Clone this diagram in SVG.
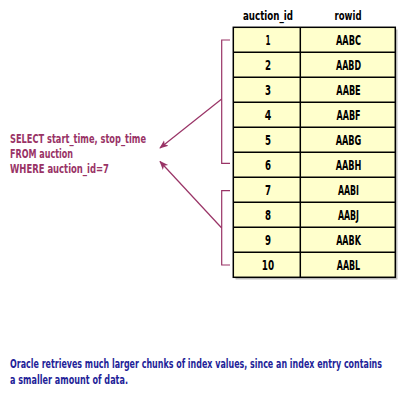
<svg xmlns="http://www.w3.org/2000/svg" width="420" height="420" viewBox="0 0 420 420">
<style>
.t{font-family:"DejaVu Sans Condensed","Liberation Sans Narrow","Liberation Sans",sans-serif;font-weight:bold;font-size:13px;font-stretch:condensed}
.c{text-anchor:middle;fill:#000}
.q{fill:#993366}
.n{fill:#1f1f99}
.cell{fill:#ffffcc;stroke:#000;stroke-width:1.5}
.br{fill:none;stroke:#993366;stroke-width:1.2}
</style>
<defs>
<marker id="ah" viewBox="0 0 10 10" refX="9" refY="5" markerWidth="9" markerHeight="9" orient="auto-start-reverse" markerUnits="userSpaceOnUse">
<path d="M0,1 L10,5 L0,9 L2.5,5 z" fill="#993366"/>
</marker>
</defs>
<rect width="420" height="420" fill="#fff"/>
<g id="headers">
<text class="t c" x="268" y="20" textLength="50" lengthAdjust="spacingAndGlyphs">auction_id</text>
<text class="t c" x="348" y="20" textLength="27" lengthAdjust="spacingAndGlyphs">rowid</text>
</g>
<g id="table">
<rect x="235.5" y="29.5" width="162" height="250" fill="#999" opacity="0.6"/>
<rect x="233.3" y="27.3" width="162" height="250" class="cell"/>
<g stroke="#000" stroke-width="1.5">
<line x1="300.3" y1="27.3" x2="300.3" y2="277.3"/>
<line x1="233.3" y1="52.3" x2="395.3" y2="52.3"/>
<line x1="233.3" y1="77.3" x2="395.3" y2="77.3"/>
<line x1="233.3" y1="102.3" x2="395.3" y2="102.3"/>
<line x1="233.3" y1="127.3" x2="395.3" y2="127.3"/>
<line x1="233.3" y1="152.3" x2="395.3" y2="152.3"/>
<line x1="233.3" y1="177.3" x2="395.3" y2="177.3"/>
<line x1="233.3" y1="202.3" x2="395.3" y2="202.3"/>
<line x1="233.3" y1="227.3" x2="395.3" y2="227.3"/>
<line x1="233.3" y1="252.3" x2="395.3" y2="252.3"/>
</g>
<g class="t c" style="font-size:14px">
<text x="268" y="45" textLength="5" lengthAdjust="spacingAndGlyphs">1</text><text x="348.5" y="45" textLength="25" lengthAdjust="spacingAndGlyphs">AABC</text>
<text x="268" y="70" textLength="6" lengthAdjust="spacingAndGlyphs">2</text><text x="348.5" y="70" textLength="25" lengthAdjust="spacingAndGlyphs">AABD</text>
<text x="268" y="95" textLength="6" lengthAdjust="spacingAndGlyphs">3</text><text x="348.5" y="95" textLength="24.3" lengthAdjust="spacingAndGlyphs">AABE</text>
<text x="268" y="120" textLength="6.5" lengthAdjust="spacingAndGlyphs">4</text><text x="348.5" y="120" textLength="24" lengthAdjust="spacingAndGlyphs">AABF</text>
<text x="268" y="145" textLength="6" lengthAdjust="spacingAndGlyphs">5</text><text x="348.5" y="145" textLength="25.7" lengthAdjust="spacingAndGlyphs">AABG</text>
<text x="268" y="170" textLength="6" lengthAdjust="spacingAndGlyphs">6</text><text x="348.5" y="170" textLength="25.7" lengthAdjust="spacingAndGlyphs">AABH</text>
<text x="268" y="195" textLength="6" lengthAdjust="spacingAndGlyphs">7</text><text x="348.5" y="195" textLength="21" lengthAdjust="spacingAndGlyphs">AABI</text>
<text x="268" y="220" textLength="6" lengthAdjust="spacingAndGlyphs">8</text><text x="348.5" y="220" textLength="21" lengthAdjust="spacingAndGlyphs">AABJ</text>
<text x="268" y="245" textLength="6" lengthAdjust="spacingAndGlyphs">9</text><text x="348.5" y="245" textLength="24.7" lengthAdjust="spacingAndGlyphs">AABK</text>
<text x="268" y="270" textLength="12.3" lengthAdjust="spacingAndGlyphs">10</text><text x="348.5" y="270" textLength="23.3" lengthAdjust="spacingAndGlyphs">AABL</text>
</g>
</g>
<g id="query">
<text class="t q" x="10" y="143" textLength="136" lengthAdjust="spacingAndGlyphs">SELECT start_time, stop_time</text>
<text class="t q" x="10" y="158" textLength="63" lengthAdjust="spacingAndGlyphs">FROM auction</text>
<text class="t q" x="10" y="173" textLength="99" lengthAdjust="spacingAndGlyphs">WHERE auction_id=7</text>
</g>
<g id="connectors">
<path class="br" d="M230,40 H221.7 V163.3 H230"/>
<path class="br" d="M230,190.7 H221.7 V265 H230"/>
<line class="br" x1="221.7" y1="99" x2="160" y2="148" marker-end="url(#ah)"/>
<line class="br" x1="221.7" y1="228" x2="160" y2="161.5" marker-end="url(#ah)"/>
</g>
<g id="note">
<text class="t n" transform="translate(10,368) scale(0.6,1)" x="0" y="0" textLength="620" lengthAdjust="spacingAndGlyphs">Oracle retrieves much larger chunks of index values, since an index entry contains</text>
<text class="t n" x="10" y="384" textLength="118" lengthAdjust="spacingAndGlyphs">a smaller amount of data.</text>
</g>
</svg>
